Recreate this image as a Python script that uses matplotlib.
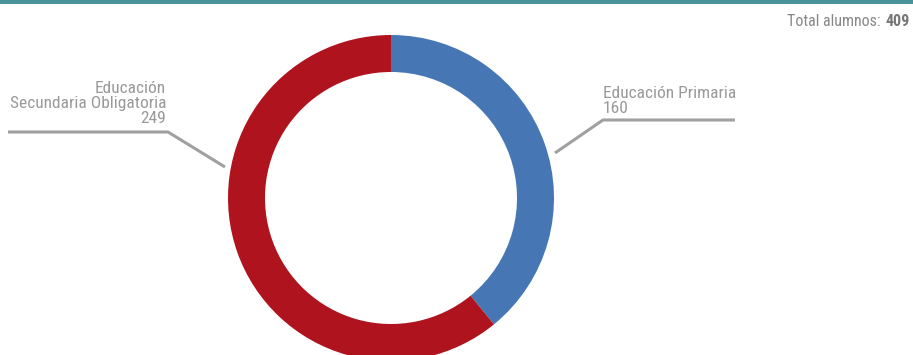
import matplotlib.pyplot as plt
from matplotlib import font_manager

labels = ['Educación Primaria', 'Educación\nSecundaria Obligatoria']
values = [160, 249]
colors = ['#4677b4', '#ae131e']
total = sum(values)

W, H = 913, 355
fig = plt.figure(figsize=(W / 100, H / 100), dpi=100)
ax = fig.add_axes([0, 0, 1, 1])

names = {f.name for f in font_manager.fontManager.ttflist}
font = ['Liberation Sans Narrow', 'Roboto Condensed', 'Roboto', 'DejaVu Sans']
font = [f for f in font if f in names]
grey = '#999999'

# donut
cx, cy, r = 391, H - 198, 163
ax.pie(values, colors=colors, startangle=90, counterclock=False,
       center=(cx, cy), radius=r, frame=True,
       wedgeprops=dict(width=37, linewidth=0))
ax.set_xlim(0, W)
ax.set_ylim(0, H)
ax.set_aspect('equal')
ax.axis('off')

# top band
ax.axhspan(H - 4, H, color='#4a9499', lw=0)

# total
t = ax.text(W - 3, H - 22, str(total), ha='right', va='center', fontsize=11.5,
            fontweight='bold', color='#777777', family=font)
fig.canvas.draw()
x0 = t.get_window_extent().x0
ax.text(x0 - 1, H - 22, 'Total alumnos: ', ha='right', va='center',
        fontsize=11.5, color='#888888', family=font)

# callouts
ax.plot([555, 603, 735], [H - 153, H - 120, H - 120], color='#a0a0a0', lw=2.2,
        solid_capstyle='butt')
ax.text(603, H - 113, f'{labels[0]}\n{values[0]}', ha='left', va='baseline',
        fontsize=12.5, color=grey, family=font, linespacing=1.0)

ax.plot([225, 168, 8], [H - 167, H - 132, H - 132], color='#a0a0a0', lw=2.2,
        solid_capstyle='butt')
ax.text(166, H - 123, f'{labels[1]}\n{values[1]}', ha='right', va='baseline',
        fontsize=12.5, color=grey, family=font, linespacing=1.0,
        multialignment='right')

fig.savefig('out.png', dpi=100)
